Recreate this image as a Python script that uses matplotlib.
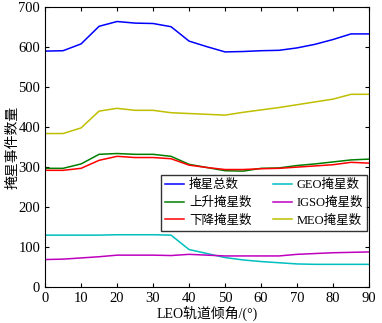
import matplotlib
matplotlib.use("Agg")
import matplotlib.pyplot as plt

plt.rcParams["font.family"] = ["Liberation Serif", "Noto Sans CJK SC"]

# LEO inclination (deg)
incl = [0, 5, 10, 15, 20, 25, 30, 35, 40, 45, 50, 55, 60, 65, 70, 75, 80, 85, 90]

total = [590, 591, 608, 652, 664, 660, 659, 651, 615, 601, 588, 589, 591, 592, 598, 607, 619, 633, 633]
rising = [297, 297, 308, 332, 334, 332, 332, 327, 307, 299, 291, 290, 297, 298, 304, 308, 313, 318, 320]
setting = [292, 292, 297, 317, 327, 324, 324, 321, 305, 299, 294, 294, 296, 297, 300, 303, 306, 312, 310]
geo = [130, 130, 130, 130, 131, 131, 131, 130, 94, 84, 74, 68, 64, 61, 58, 57, 57, 57, 57]
igso = [69, 70, 73, 76, 80, 80, 80, 79, 82, 80, 78, 78, 78, 78, 82, 84, 86, 87, 88]
meo = [384, 384, 398, 440, 447, 442, 442, 436, 434, 432, 430, 437, 443, 449, 456, 463, 470, 482, 482]

fig = plt.figure(figsize=(3.82, 3.23), dpi=100)
ax = fig.add_axes([0.118, 0.111, 0.848, 0.867])

lw = 1.1
ax.plot(incl, total, color="#0000ff", lw=lw, label="掩星总数")
ax.plot(incl, rising, color="#008000", lw=lw, label="上升掩星数")
ax.plot(incl, setting, color="#ff0000", lw=lw, label="下降掩星数")
ax.plot(incl, geo, color="#00bfbf", lw=lw, label="GEO掩星数")
ax.plot(incl, igso, color="#bf00bf", lw=lw, label="IGSO掩星数")
ax.plot(incl, meo, color="#bfbf00", lw=lw, label="MEO掩星数")

ax.set_xlim(0, 90)
ax.set_ylim(0, 700)
ax.set_xticks(range(0, 91, 10))
ax.set_yticks(range(0, 701, 100))
ax.tick_params(direction="in", top=True, right=True, labelsize=10.5, length=3)
ax.set_xlabel("LEO轨道倾角/(°)", fontsize=10)
ax.set_ylabel("掩星事件数量", fontsize=10)
ax.xaxis.set_label_coords(0.5, -0.066)
ax.yaxis.set_label_coords(-0.08, 0.5)

ax.legend(ncol=2, loc="lower right", bbox_to_anchor=(0.995, 0.2), fontsize=9,
          frameon=True, fancybox=False, edgecolor="black", handlelength=1.5,
          handletextpad=0.4, columnspacing=1.7, labelspacing=0.45,
          borderpad=0.35, borderaxespad=0.0)

fig.savefig("out.png", dpi=100)
